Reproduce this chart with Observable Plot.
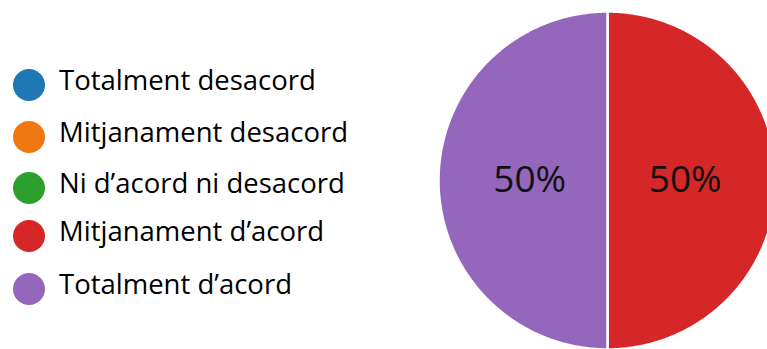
<!DOCTYPE html>
<html>
<head>
<meta charset="utf-8">
<script src="https://cdn.jsdelivr.net/npm/d3@7"></script>
<script src="https://cdn.jsdelivr.net/npm/@observablehq/plot@0.6"></script>
<style>
  html, body { margin: 0; padding: 0; background: #fff; }
  #wrap { position: relative; width: 767px; height: 349px; overflow: hidden; font-family: "Open Sans", sans-serif; }
  #legend { position: absolute; left: 0; top: 0; }
  .row { position: absolute; left: 0; height: 0; white-space: nowrap; }
  .sw { position: absolute; left: 13px; top: -16px; width: 32px; height: 32px; border-radius: 50%; }
  .lab { position: absolute; left: 59px; top: -22px; font-size: 27.5px; line-height: 34px; color: #000; }
  #chart { position: absolute; left: 0; top: 0; }
</style>
</head>
<body>
<div id="wrap"><div id="chart"></div><div id="legend"></div></div>
<script>
const categories = ["Totalment desacord", "Mitjanament desacord", "Ni d’acord ni desacord", "Mitjanament d’acord", "Totalment d’acord"];
const values = [0, 0, 0, 50, 50];
const colors = ["#1f77b4", "#ef7610", "#2ca02c", "#d62728", "#9467bd"];
const legendRowY = [85, 137, 188, 236, 289];

// slice order: drawn clockwise from the top, "Mitjanament d'acord" first
const sliceOrder = [3, 4, 0, 1, 2];
const total = d3.sum(values);
const pieData = sliceOrder.map(i => ({cat: categories[i], value: values[i]}));
const arcs = d3.pie().sort(null).value(d => d.value)(pieData);

const pts = [];
const labels = [];
for (const a of arcs) {
  if (a.data.value <= 0) continue;
  const n = Math.max(2, Math.ceil((a.endAngle - a.startAngle) / 0.01));
  pts.push({cat: a.data.cat, x: 0, y: 0});
  for (let k = 0; k <= n; k++) {
    const t = a.startAngle + (a.endAngle - a.startAngle) * k / n;
    pts.push({cat: a.data.cat, x: Math.sin(t), y: Math.cos(t)});
  }
  pts.push({cat: a.data.cat, x: 0, y: 0});
  const m = (a.startAngle + a.endAngle) / 2;
  labels.push({cat: a.data.cat, x: 0.46 * Math.sin(m), y: 0.46 * Math.cos(m), text: Math.round(a.data.value / total * 100) + "%"});
}

const plot = Plot.plot({
  width: 767,
  height: 349,
  margin: 0,
  x: {domain: [-1, 1], range: [438, 776], axis: null},
  y: {domain: [-1, 1], range: [349, 11], axis: null},
  color: {domain: categories, range: colors},
  style: {background: "transparent", overflow: "visible"},
  marks: [
    Plot.line(pts, {x: "x", y: "y", z: "cat", fill: "cat", stroke: "#fff", strokeWidth: 2.5, curve: "linear-closed"}),
    Plot.text(labels, {x: "x", y: "y", text: "text", fill: "#111", fontSize: 37, fontFamily: "Open Sans, sans-serif"})
  ]
});
document.getElementById("chart").appendChild(plot);

const legend = d3.select("#legend");
categories.forEach((c, i) => {
  const row = legend.append("div").attr("class", "row").style("top", legendRowY[i] + "px");
  row.append("div").attr("class", "sw").style("background", colors[i]);
  row.append("div").attr("class", "lab").text(c);
});
</script>
</body>
</html>
